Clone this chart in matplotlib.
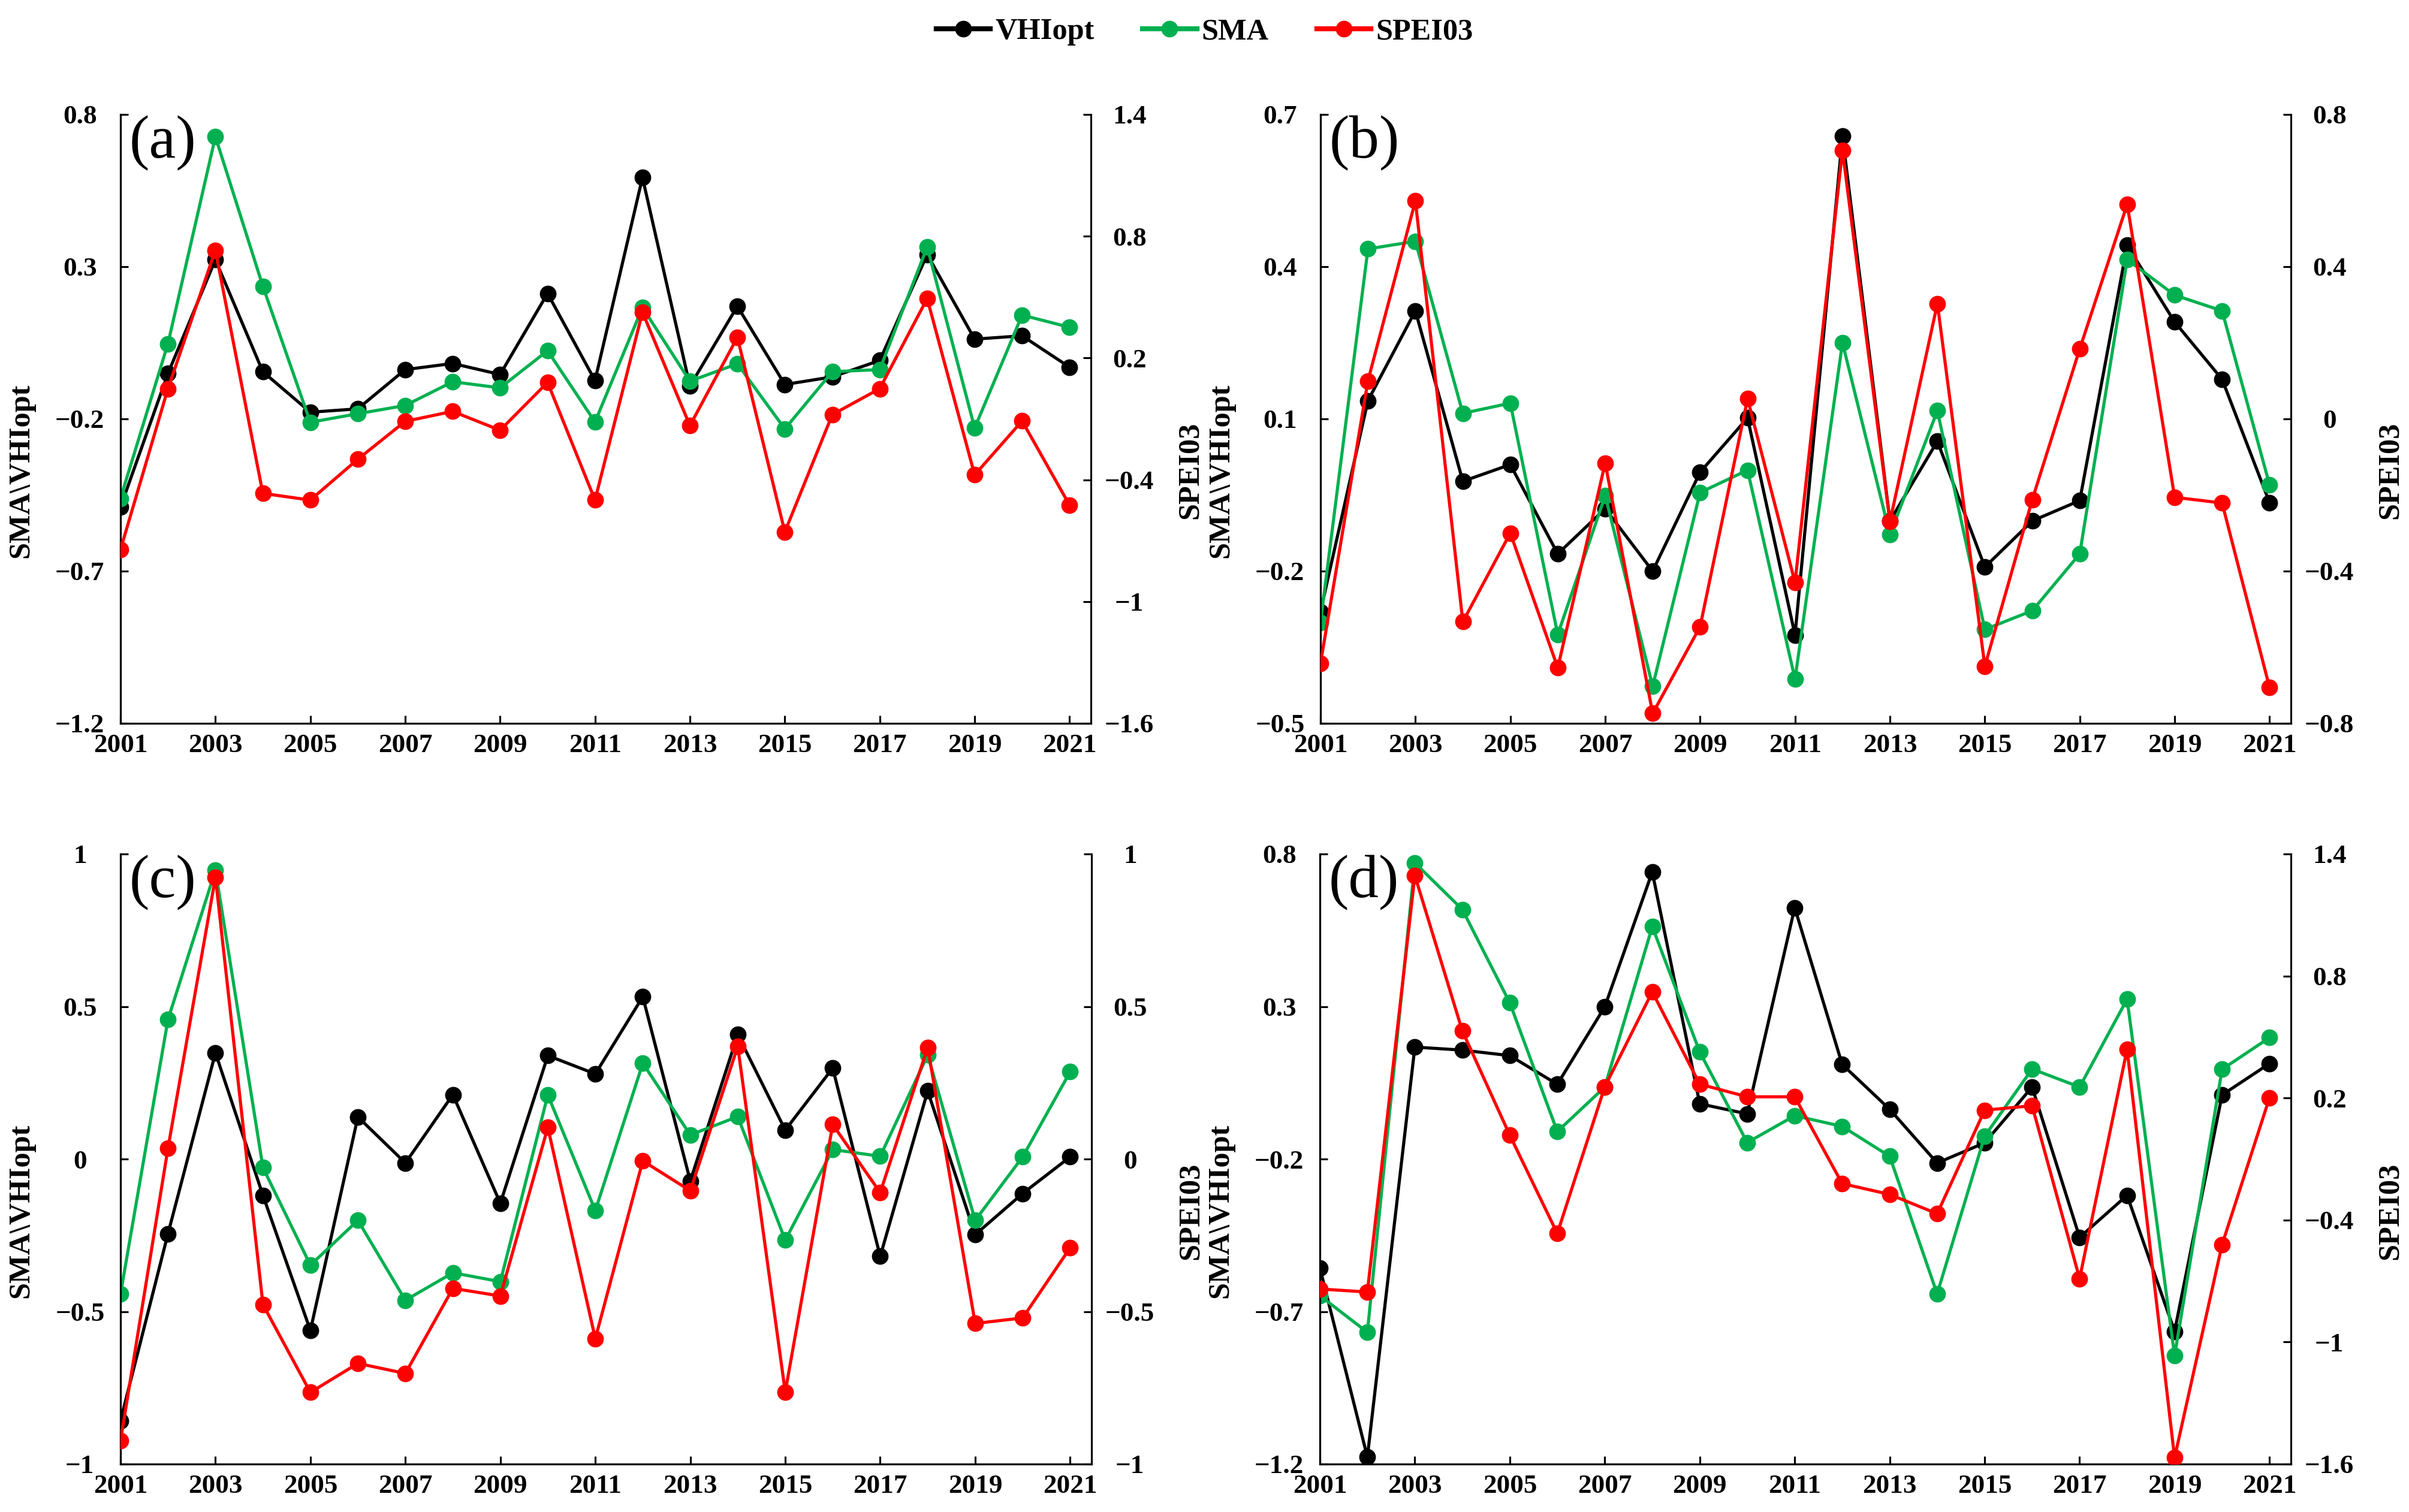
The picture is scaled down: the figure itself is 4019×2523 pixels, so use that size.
import matplotlib
matplotlib.use("Agg")
import matplotlib.pyplot as plt
from matplotlib.lines import Line2D

years = list(range(2001, 2022))
xtick_years = list(range(2001, 2022, 2))

# Panel (a)
a_vhi = [-0.490, -0.051, 0.323, -0.045, -0.178, -0.167, -0.038, -0.018, -0.054, 0.212, -0.074,
         0.593, -0.092, 0.170, -0.087, -0.062, -0.008, 0.340, 0.062, 0.073, -0.030]
a_sma = [-0.461, 0.047, 0.727, 0.236, -0.211, -0.183, -0.156, -0.078, -0.098, 0.024, -0.210,
         0.166, -0.076, -0.019, -0.233, -0.045, -0.038, 0.365, -0.230, 0.141, 0.101]
a_spei = [-0.744, 0.049, 0.731, -0.467, -0.500, -0.299, -0.112, -0.063, -0.156, 0.080, -0.500,
          0.426, -0.133, 0.302, -0.657, -0.079, 0.049, 0.493, -0.376, -0.110, -0.525]

# Panel (b)
b_vhi = [-0.280, 0.136, 0.313, -0.023, 0.010, -0.166, -0.077, -0.200, -0.005, 0.102, -0.326,
         0.657, -0.101, 0.056, -0.192, -0.101, -0.061, 0.442, 0.291, 0.178, -0.065]
b_sma = [-0.301, 0.435, 0.450, 0.111, 0.131, -0.325, -0.051, -0.427, -0.045, -0.001, -0.413,
         0.250, -0.128, 0.116, -0.315, -0.278, -0.166, 0.414, 0.344, 0.313, -0.030]
b_spei = [-0.643, 0.100, 0.573, -0.533, -0.300, -0.654, -0.116, -0.774, -0.546, 0.053, -0.430,
          0.706, -0.270, 0.303, -0.650, -0.212, 0.184, 0.564, -0.206, -0.221, -0.706]

# Panel (c)
c_vhi = [-0.858, -0.245, 0.348, -0.119, -0.562, 0.138, -0.013, 0.211, -0.145, 0.339, 0.279,
         0.532, -0.072, 0.408, 0.095, 0.298, -0.319, 0.223, -0.248, -0.113, 0.007]
c_sma = [-0.443, 0.457, 0.947, -0.028, -0.348, -0.201, -0.463, -0.373, -0.402, 0.210, -0.169,
         0.314, 0.079, 0.139, -0.266, 0.031, 0.009, 0.341, -0.201, 0.007, 0.286]
c_spei = [-0.924, 0.035, 0.924, -0.477, -0.765, -0.670, -0.703, -0.424, -0.449, 0.104, -0.589,
          -0.006, -0.104, 0.369, -0.764, 0.113, -0.110, 0.366, -0.539, -0.521, -0.291]

# Panel (d)
d_vhi = [-0.557, -1.177, 0.167, 0.157, 0.139, 0.045, 0.299, 0.741, -0.019, -0.052, 0.624,
         0.110, -0.037, -0.213, -0.147, 0.036, -0.457, -0.319, -0.765, 0.010, 0.113]
d_sma = [-0.648, -0.768, 0.771, 0.618, 0.312, -0.110, 0.036, 0.562, 0.151, -0.146, -0.058,
         -0.093, -0.191, -0.642, -0.125, 0.095, 0.036, 0.324, -0.845, 0.094, 0.198]
d_spei = [-0.739, -0.754, 1.294, 0.530, 0.017, -0.466, 0.255, 0.722, 0.268, 0.206, 0.206,
          -0.221, -0.274, -0.369, 0.140, 0.162, -0.688, 0.440, -1.569, -0.521, 0.202]

# Axis ticks
a_left_ticks = [0.8, 0.3, -0.2, -0.7, -1.2]
a_right_ticks = [1.4, 0.8, 0.2, -0.4, -1.0, -1.6]
b_left_ticks = [0.7, 0.4, 0.1, -0.2, -0.5]
b_right_ticks = [0.8, 0.4, 0.0, -0.4, -0.8]
c_left_ticks = [1.0, 0.5, 0.0, -0.5, -1.0]
c_right_ticks = [1.0, 0.5, 0.0, -0.5, -1.0]
d_left_ticks = [0.8, 0.3, -0.2, -0.7, -1.2]
d_right_ticks = [1.4, 0.8, 0.2, -0.4, -1.0, -1.6]

panel_labels = ["(a)", "(b)", "(c)", "(d)"]
series_names = ["VHIopt", "SMA", "SPEI03"]
colors = ["#000000", "#00B050", "#FF0000"]

plt.rcParams['font.family'] = ['Liberation Serif', 'DejaVu Serif']
plt.rcParams['axes.unicode_minus'] = True

W, H = 4019, 2523
fig = plt.figure(figsize=(W / 250, H / 250), dpi=250)

# axes boxes in pixels: left, right, top, bottom
boxes = [(201, 1820, 191, 1207), (2203, 3822, 191, 1207),
         (201, 1821, 1425, 2443), (2202, 3822, 1425, 2443)]

panels = [
    (a_vhi, a_sma, a_spei, a_left_ticks, a_right_ticks),
    (b_vhi, b_sma, b_spei, b_left_ticks, b_right_ticks),
    (c_vhi, c_sma, c_spei, c_left_ticks, c_right_ticks),
    (d_vhi, d_sma, d_spei, d_left_ticks, d_right_ticks),
]


def fmt(v):
    s = f"{v:g}"
    if s == "-0":
        s = "0"
    return s.replace("-", "\u2212")


LW = 1.5
MS = 7
tick_fs = 13

for i, (vhi, sma, spei, lt, rt) in enumerate(panels):
    l, r, t, b = boxes[i]
    ax = fig.add_axes([l / W, 1 - b / H, (r - l) / W, (b - t) / H])
    ax2 = ax.twinx()
    ax.plot(years, vhi, color=colors[0], lw=LW, marker='o', ms=MS, zorder=2)
    ax.plot(years, sma, color=colors[1], lw=LW, marker='o', ms=MS, zorder=3)
    ax2.plot(years, spei, color=colors[2], lw=LW, marker='o', ms=MS, zorder=3)

    ax.set_xlim(2001, 2021.45)
    ax.set_ylim(min(lt), max(lt))
    ax2.set_ylim(min(rt), max(rt))

    ax.set_xticks(xtick_years)
    ax.set_xticklabels([str(y) for y in xtick_years], fontweight='bold', fontsize=tick_fs)
    ax.set_yticks(lt)
    ax.set_yticklabels([fmt(v) for v in lt], fontweight='bold', fontsize=tick_fs)
    ax2.set_yticks(rt)
    ax2.set_yticklabels([fmt(v) for v in rt], fontweight='bold', fontsize=tick_fs)

    ax.tick_params(axis='x', direction='in', length=3.8, width=0.9, pad=5)
    ax.tick_params(axis='y', direction='in', length=3.8, width=0.9, pad=19.5)
    ax2.tick_params(axis='y', direction='in', length=3.8, width=0.9, pad=18.5)
    for lab in ax.get_yticklabels():
        lab.set_horizontalalignment('center')
    for lab in ax2.get_yticklabels():
        lab.set_horizontalalignment('center')

    for a in (ax, ax2):
        a.spines['top'].set_visible(False)
        for s in a.spines.values():
            s.set_linewidth(0.9)
    ax.spines['right'].set_visible(False)

    ax.set_ylabel("SMA\\VHIopt", fontweight='bold', fontsize=14.5)
    ax.yaxis.set_label_coords(-0.088, 0.415)
    ax2.set_ylabel("SPEI03", fontweight='bold', fontsize=14.5, rotation=90)
    ax2.yaxis.set_label_coords(1.088, 0.415)

    ax.text(0.009, 0.998, panel_labels[i], transform=ax.transAxes, ha='left', va='top',
            fontsize=29, zorder=10)

handles = [Line2D([0], [0], color=c, lw=LW * 1.6, marker='o', ms=MS) for c in colors]
fig.legend(handles, series_names, loc='center', bbox_to_anchor=(0.5, 1 - 53 / H), ncol=3,
           frameon=False, prop={'weight': 'bold', 'size': 14.5}, handlelength=1.8,
           handletextpad=0.15, columnspacing=1.6)

fig.savefig("out.png", dpi=250)
